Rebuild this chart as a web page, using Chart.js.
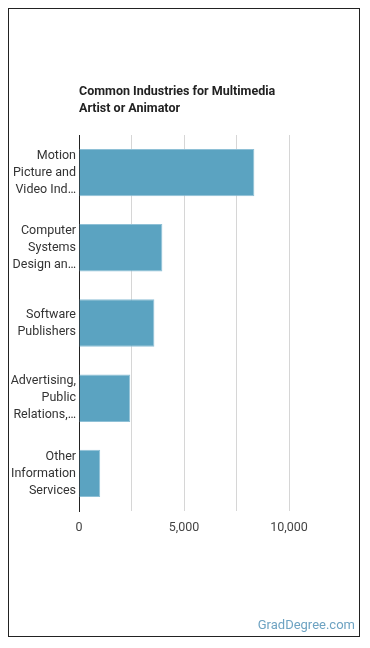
<!DOCTYPE html>
<html lang="en">
<head>
  <meta charset="UTF-8" />
  <title>Common Industries for Multimedia Artist or Animator</title>
  <script src="https://cdn.jsdelivr.net/npm/chart.js"></script>
  <style>
    html, body {
      margin: 0;
      padding: 0;
      background: #fff;
    }
    .frame {
      position: absolute;
      left: 8px;
      top: 8px;
      width: 350px;
      height: 627px;
      border: 1px solid #222;
    }
    #chart {
      position: absolute;
      left: 0;
      top: 0;
    }
    .credit {
      position: absolute;
      right: 15px;
      top: 617px;
      font-family: Roboto, sans-serif;
      font-size: 13px;
      color: #6ea3c2;
    }
  </style>
</head>
<body>
  <div class="frame"></div>
  <canvas id="chart" width="370" height="648"></canvas>
  <div class="credit">GradDegree.com</div>

  <script>
    const industries = [
      ['Motion', 'Picture and', 'Video Ind…'],
      ['Computer', 'Systems', 'Design an…'],
      ['Software', 'Publishers'],
      ['Advertising,', 'Public', 'Relations,…'],
      ['Other', 'Information', 'Services']
    ];
    const employment = [8350, 3970, 3590, 2440, 1010];
    const tickStep = 2500;
    const labelStep = 5000;

    const ctx = document.getElementById('chart').getContext('2d');
    new Chart(ctx, {
      type: 'bar',
      data: {
        labels: industries,
        datasets: [{
          data: employment,
          backgroundColor: '#5ba3c1',
          borderColor: '#8ec0d6',
          borderWidth: 1,
          categoryPercentage: 1,
          barPercentage: 0.63
        }]
      },
      options: {
        indexAxis: 'y',
        responsive: false,
        animation: false,
        layout: {
          padding: { top: 83, right: 81, bottom: 100, left: 0 }
        },
        plugins: {
          legend: { display: false },
          tooltip: { enabled: false },
          title: {
            display: true,
            fullSize: false,
            align: 'start',
            text: ['Common Industries for Multimedia', 'Artist or Animator'],
            color: '#222',
            font: { family: 'Roboto, sans-serif', size: 12.5, weight: 'bold', lineHeight: 1.36 },
            padding: { top: 0, bottom: 18 }
          }
        },
        scales: {
          x: {
            min: 0,
            max: 10000,
            border: { display: false },
            grid: { color: '#d6d6d6', drawTicks: false },
            ticks: {
              stepSize: tickStep,
              padding: 9,
              color: '#444',
              font: { family: 'Roboto, sans-serif', size: 12.5 },
              callback: v => v % labelStep === 0 ? v.toLocaleString('en-US') : ''
            },
            afterFit: s => { s.height = 37; }
          },
          y: {
            border: { display: true, color: '#222', width: 1 },
            grid: { display: false, drawTicks: false },
            ticks: {
              padding: 3,
              color: '#333',
              font: { family: 'Roboto, sans-serif', size: 12.5, lineHeight: 1.36 }
            },
            afterFit: s => { s.width = 79; }
          }
        }
      }
    });
  </script>
</body>
</html>
